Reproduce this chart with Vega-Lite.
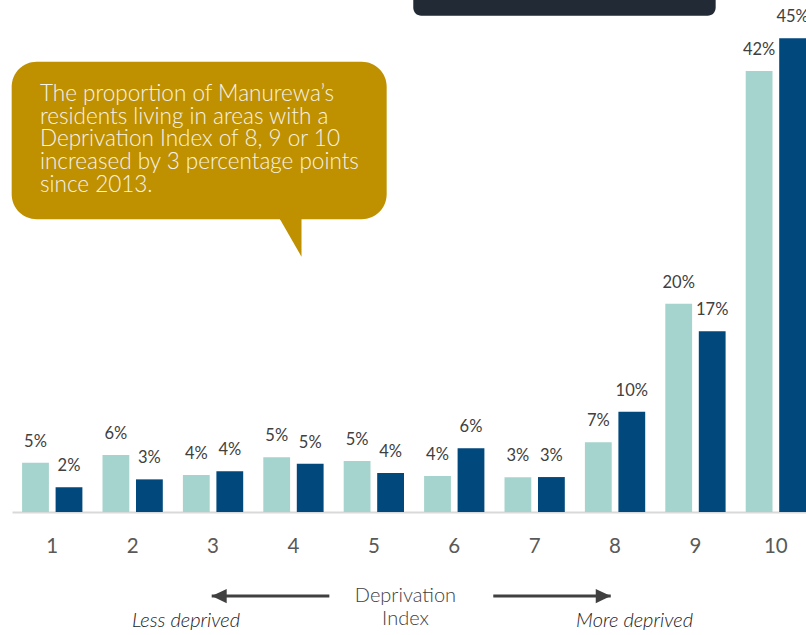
{
  "$schema": "https://vega.github.io/schema/vega-lite/v6.json",
  "width": 794,
  "height": 512,
  "autosize": {"type": "none"},
  "padding": {"left": 12, "top": 0, "right": 0, "bottom": 123},
  "background": "white",
  "config": {"view": {"stroke": null}, "font": "Lato"},
  "datasets": {
    "bars": [
      {"index": "1", "year": "2013", "share": 4.68, "label": "5%"},
      {"index": "1", "year": "2018", "share": 2.35, "label": "2%"},
      {"index": "2", "year": "2013", "share": 5.41, "label": "6%"},
      {"index": "2", "year": "2018", "share": 3.1, "label": "3%"},
      {"index": "3", "year": "2013", "share": 3.51, "label": "4%"},
      {"index": "3", "year": "2018", "share": 3.87, "label": "4%"},
      {"index": "4", "year": "2013", "share": 5.2, "label": "5%"},
      {"index": "4", "year": "2018", "share": 4.59, "label": "5%"},
      {"index": "5", "year": "2013", "share": 4.84, "label": "5%"},
      {"index": "5", "year": "2018", "share": 3.7, "label": "4%"},
      {"index": "6", "year": "2013", "share": 3.42, "label": "4%"},
      {"index": "6", "year": "2018", "share": 6.05, "label": "6%"},
      {"index": "7", "year": "2013", "share": 3.3, "label": "3%"},
      {"index": "7", "year": "2018", "share": 3.32, "label": "3%"},
      {"index": "8", "year": "2013", "share": 6.63, "label": "7%"},
      {"index": "8", "year": "2018", "share": 9.52, "label": "10%"},
      {"index": "9", "year": "2013", "share": 19.79, "label": "20%"},
      {"index": "9", "year": "2018", "share": 17.17, "label": "17%"},
      {"index": "10", "year": "2013", "share": 41.9, "label": "42%"},
      {"index": "10", "year": "2018", "share": 45.0, "label": "45%"}
    ],
    "callout": [{"x": 0.496, "x2": 5.16, "y": 42.78, "y2": 27.8}],
    "tail": [
      {"x": 3.833, "y": 27.8, "y2": 28.6},
      {"x": 4.101, "y": 24.25, "y2": 28.6}
    ],
    "calloutText": [{"x": 0.848, "y": 39.04, "text": "The proportion of Manurewa’s\nresidents living in areas with a\nDeprivation Index of 8, 9 or 10\nincreased by 3 percentage points\nsince 2013."}],
    "topBox": [{"x": 5.491, "x2": 9.252, "y": 47.15, "y2": 60}],
    "arrows": [
      {"x": 2.984, "x2": 4.447, "y": -7.98, "tip": 2.984, "dir": "left"},
      {"x": 6.486, "x2": 7.947, "y": -7.98, "tip": 7.947, "dir": "right"}
    ],
    "centerText": [{"x": 5.394, "y": -8.58, "text": "Deprivation\nIndex"}],
    "sideText": [
      {"x": 2.664, "y": -10.88, "text": "Less deprived"},
      {"x": 8.243, "y": -10.88, "text": "More deprived"}
    ]
  },
  "layer": [
    {
      "data": {"name": "bars"},
      "encoding": {
        "x": {
          "field": "index",
          "type": "nominal",
          "sort": null,
          "scale": {"paddingInner": 0.25, "paddingOuter": 0.0628, "align": 1},
          "axis": {
            "title": null,
            "labelAngle": 0,
            "domainColor": "#D9D9D9",
            "domainWidth": 2,
            "ticks": false,
            "tickSize": 0,
            "labelPadding": 24,
            "labelFontSize": 20.5,
            "labelColor": "#595959",
            "labelFont": "Lato",
            "grid": false
          }
        },
        "xOffset": {"field": "year", "type": "nominal", "scale": {"paddingInner": 0.2, "paddingOuter": 0}},
        "y": {"field": "share", "type": "quantitative", "scale": {"domain": [0, 48.64], "nice": false, "zero": true}, "axis": null}
      },
      "layer": [
        {
          "mark": {"type": "bar"},
          "encoding": {
            "color": {"field": "year", "type": "nominal", "scale": {"domain": ["2013", "2018"], "range": ["#A5D3CD", "#01497C"]}, "legend": null}
          }
        },
        {
          "mark": {"type": "text", "dy": -16, "baseline": "alphabetic", "align": "center", "fontSize": 16.5, "color": "#404040", "font": "Lato"},
          "encoding": {"text": {"field": "label", "type": "nominal"}}
        }
      ]
    },
    {
      "layer": [
        {
          "data": {"name": "topBox"},
          "mark": {"type": "rect", "color": "#222A35", "cornerRadius": 8},
          "encoding": {
            "x": {"field": "x", "type": "quantitative", "scale": {"domain": [0.5, 10.3756], "nice": false, "zero": false}, "axis": null},
            "x2": {"field": "x2"},
            "y": {"field": "y", "type": "quantitative", "scale": {"domain": [0, 48.64], "nice": false, "zero": true}, "axis": null},
            "y2": {"field": "y2"}
          }
        },
        {
          "data": {"name": "callout"},
          "mark": {"type": "rect", "color": "#BF9000", "cornerRadius": 25},
          "encoding": {
            "x": {"field": "x", "type": "quantitative", "scale": {"domain": [0.5, 10.3756], "nice": false, "zero": false}, "axis": null},
            "x2": {"field": "x2"},
            "y": {"field": "y", "type": "quantitative", "scale": {"domain": [0, 48.64], "nice": false, "zero": true}, "axis": null},
            "y2": {"field": "y2"}
          }
        },
        {
          "data": {"name": "tail"},
          "mark": {"type": "area", "color": "#BF9000", "opacity": 1},
          "encoding": {
            "x": {"field": "x", "type": "quantitative", "scale": {"domain": [0.5, 10.3756], "nice": false, "zero": false}, "axis": null},
            "y": {"field": "y", "type": "quantitative", "scale": {"domain": [0, 48.64], "nice": false, "zero": true}, "axis": null},
            "y2": {"field": "y2"}
          }
        },
        {
          "data": {"name": "calloutText"},
          "mark": {"type": "text", "align": "left", "baseline": "alphabetic", "lineBreak": "\n", "lineHeight": 22.7, "fontSize": 22.5, "fontWeight": 300, "color": "#F7F3E8", "font": "Lato"},
          "encoding": {
            "x": {"field": "x", "type": "quantitative", "scale": {"domain": [0.5, 10.3756], "nice": false, "zero": false}, "axis": null},
            "y": {"field": "y", "type": "quantitative", "scale": {"domain": [0, 48.64], "nice": false, "zero": true}, "axis": null},
            "text": {"field": "text", "type": "nominal"}
          }
        },
        {
          "data": {"name": "arrows"},
          "mark": {"type": "rule", "strokeWidth": 3, "color": "#404040"},
          "encoding": {
            "x": {"field": "x", "type": "quantitative", "scale": {"domain": [0.5, 10.3756], "nice": false, "zero": false}, "axis": null},
            "x2": {"field": "x2"},
            "y": {"field": "y", "type": "quantitative", "scale": {"domain": [0, 48.64], "nice": false, "zero": true}, "axis": null}
          }
        },
        {
          "data": {"name": "arrows"},
          "mark": {"type": "point", "filled": true, "opacity": 1, "size": 225, "color": "#404040", "strokeWidth": 0},
          "encoding": {
            "x": {"field": "tip", "type": "quantitative", "scale": {"domain": [0.5, 10.3756], "nice": false, "zero": false}, "axis": null},
            "y": {"field": "y", "type": "quantitative", "scale": {"domain": [0, 48.64], "nice": false, "zero": true}, "axis": null},
            "shape": {"field": "dir", "type": "nominal", "scale": {"domain": ["left", "right"], "range": ["M 0 0 L 2 -0.95 L 2 0.95 Z", "M 0 0 L -2 -0.95 L -2 0.95 Z"]}, "legend": null}
          }
        },
        {
          "data": {"name": "centerText"},
          "mark": {"type": "text", "align": "center", "baseline": "alphabetic", "lineBreak": "\n", "lineHeight": 22.7, "fontSize": 20, "fontWeight": 300, "color": "#404040", "font": "Lato"},
          "encoding": {
            "x": {"field": "x", "type": "quantitative", "scale": {"domain": [0.5, 10.3756], "nice": false, "zero": false}, "axis": null},
            "y": {"field": "y", "type": "quantitative", "scale": {"domain": [0, 48.64], "nice": false, "zero": true}, "axis": null},
            "text": {"field": "text", "type": "nominal"}
          }
        },
        {
          "data": {"name": "sideText"},
          "mark": {"type": "text", "align": "center", "baseline": "alphabetic", "fontSize": 20, "fontStyle": "italic", "fontWeight": 300, "color": "#1A1A1A", "font": "Lato"},
          "encoding": {
            "x": {"field": "x", "type": "quantitative", "scale": {"domain": [0.5, 10.3756], "nice": false, "zero": false}, "axis": null},
            "y": {"field": "y", "type": "quantitative", "scale": {"domain": [0, 48.64], "nice": false, "zero": true}, "axis": null},
            "text": {"field": "text", "type": "nominal"}
          }
        }
      ]
    }
  ],
  "resolve": {"scale": {"x": "independent", "color": "independent", "shape": "independent"}}
}
